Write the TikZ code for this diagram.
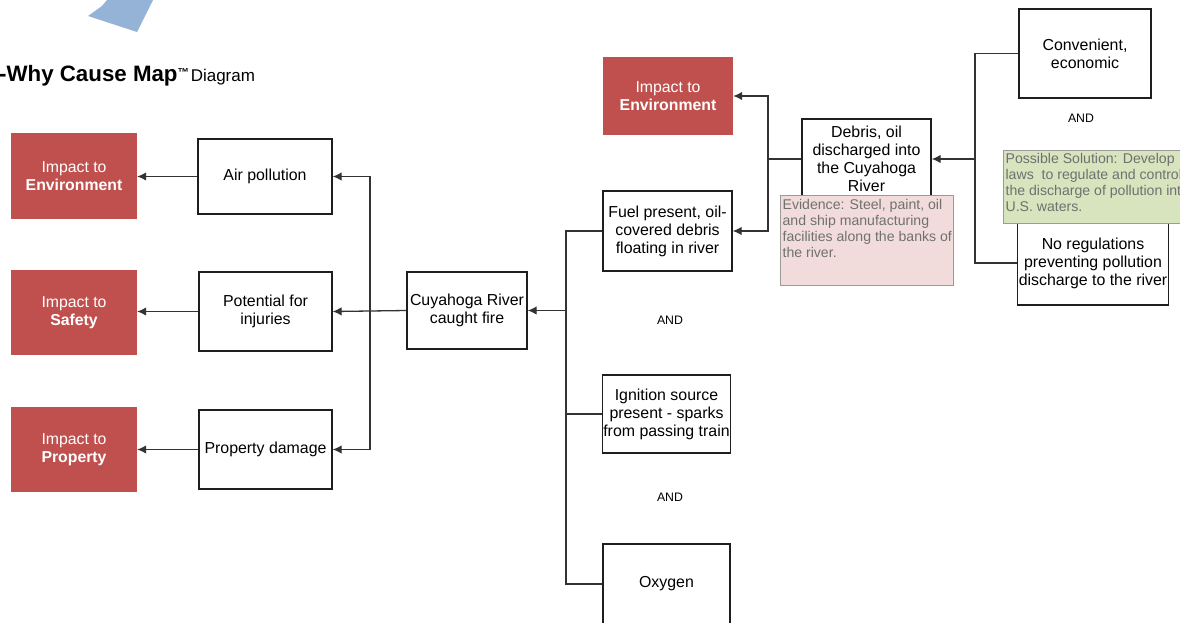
\documentclass[tikz,border=0pt]{standalone}
\usepackage{fontspec}
\setmainfont{Liberation Sans}
\usetikzlibrary{arrows.meta}
\definecolor{impc}{HTML}{C0504D}
\definecolor{boxc}{HTML}{1E1E1E}
\definecolor{linec}{HTML}{333333}
\definecolor{evfill}{HTML}{F2DCDB}
\definecolor{solfill}{HTML}{D7E4BD}
\definecolor{notec}{HTML}{9A9A9A}
\definecolor{notetext}{HTML}{707070}
\definecolor{bluec}{HTML}{95B3D7}
\begin{document}
\begin{tikzpicture}[x=1pt,y=-1pt,
  box/.style={draw=boxc, line width=1.4pt, fill=white, align=center, inner sep=1pt,
    font=\fontsize{15.9}{18}\selectfont},
  impbox/.style={fill=impc, text=white, align=center, inner sep=1pt,
    minimum width=126pt, minimum height=86pt, font=\fontsize{15.8}{18}\selectfont},
  arr/.style={draw=linec, line width=1.3pt, -{Latex[length=9pt,width=8.5pt]}},
  ln/.style={draw=linec, line width=1.3pt},
  andlbl/.style={font=\fontsize{12.3}{14}\selectfont, inner sep=0pt},
  notebox/.style={draw=notec, line width=1.2pt, inner sep=0pt, anchor=north west}]
\useasboundingbox (0,0) rectangle (1180,622);
\clip (0,0) rectangle (1180,622);
\fill[white] (0,0) rectangle (1180,622);

% decorative arrow shape
\fill[bluec] (107,0) -- (102,6) -- (88,16) -- (137,32) -- (153,0) -- cycle;

% title
\node[anchor=base west, inner sep=0pt] (title) at (-1,81)
  {{\fontsize{22.3}{24}\selectfont\bfseries -Why Cause Map}\raisebox{4.5pt}{\fontsize{11.5}{11}\selectfont\bfseries ™}\,{\fontsize{17}{18}\selectfont Diagram}};

% impact boxes (left)
\node[impbox] (ie1) at (74,176) {Impact to\\\textbf{Environment}};
\node[impbox, minimum height=85pt] (ie2) at (74,312.5) {Impact to\\\textbf{Safety}};
\node[impbox, minimum height=85pt] (ie3) at (74,449.5) {Impact to\\\textbf{Property}};

% effect boxes
\node[box, minimum width=134pt, minimum height=75pt] (air) at (265,176.5) {Air pollution};
\node[box, minimum width=133pt, minimum height=79pt] (pot) at (265.5,311.5) {Potential for\\injuries};
\node[box, minimum width=133pt, minimum height=79pt] (prop) at (265.5,449.5) {Property damage};

% central problem
\node[box, minimum width=120pt, minimum height=77pt] (cuy) at (467,310.5) {Cuyahoga River\\caught fire};

% causes
\node[box, minimum width=129pt, minimum height=80pt] (fuel) at (667.5,231) {Fuel present, oil-\\covered debris\\floating in river};
\node[box, minimum width=127pt, minimum height=78pt] (ign) at (666.5,414) {Ignition source\\present - sparks\\from passing train};
\node[box, minimum width=127pt, minimum height=80pt] (oxy) at (666.5,584) {Oxygen};

\node[andlbl] (and1) at (670,320) {AND};
\node[andlbl] (and2) at (670,497) {AND};
\node[andlbl] (and3) at (1081,118) {AND};

% top right impact
\node[impbox, minimum width=130pt, minimum height=78pt] (ie4) at (668,96) {Impact to\\\textbf{Environment}};

% debris and its causes
\node[box, minimum width=129pt, minimum height=80pt] (deb) at (866.5,159) {Debris, oil\\discharged into\\the Cuyahoga\\River};
\node[box, minimum width=132pt, minimum height=89pt] (conv) at (1085,53.5) {Convenient,\\economic};
\node[box, minimum width=148pt, minimum height=84pt] (noreg) at (1093,263) {No regulations\\preventing pollution\\discharge to the river};

% connectors left side
\coordinate (lt) at (370,311.5);
\draw[arr] (cuy.west) -- (pot.east);
\draw[arr] (lt) |- (air.east);
\draw[arr] (lt) |- (prop.east);
\draw[arr] (air.west) -- (ie1.east |- air.west);
\draw[arr] (pot.west) -- (ie2.east |- pot.west);
\draw[arr] (prop.west) -- (ie3.east |- prop.west);

% connectors right of problem
\coordinate (rt) at (566,310.5);
\draw[arr] (rt) -- (cuy.east);
\draw[ln] (rt) |- (fuel.west);
\draw[ln] (rt) |- (ign.west);
\draw[ln] (rt) |- (oxy.west);

% debris connectors
\coordinate (ft) at (768,159);
\draw[ln] (deb.west) -- (ft);
\draw[arr] (ft) |- (ie4.east);
\draw[arr] (ft) |- (fuel.east);

\coordinate (dt) at (975,159);
\draw[arr] (dt) -- (deb.east);
\draw[ln] (dt) |- (conv.west);
\draw[ln] (dt) |- (noreg.west);

% evidence note
\node[notebox, fill=evfill] (evid) at (780,195)
  {\parbox[t][90pt][t]{173pt}{\vspace*{3.5pt}\fontsize{14.1}{16}\selectfont\color{notetext}\raggedright\leftskip=2pt
   Evidence: Steel, paint, oil\\and ship manufacturing\\facilities along the banks of\\the river.}};

% solution note
\node[notebox, fill=solfill] (sol) at (1003,150)
  {\parbox[t][73pt][t]{190pt}{\vspace*{2.5pt}\fontsize{14.1}{16}\selectfont\color{notetext}\raggedright\leftskip=2pt
   Possible Solution: Develop\\laws\ \ to regulate and control\\the discharge of pollution into\\U.S. waters.}};
\end{tikzpicture}
\end{document}
